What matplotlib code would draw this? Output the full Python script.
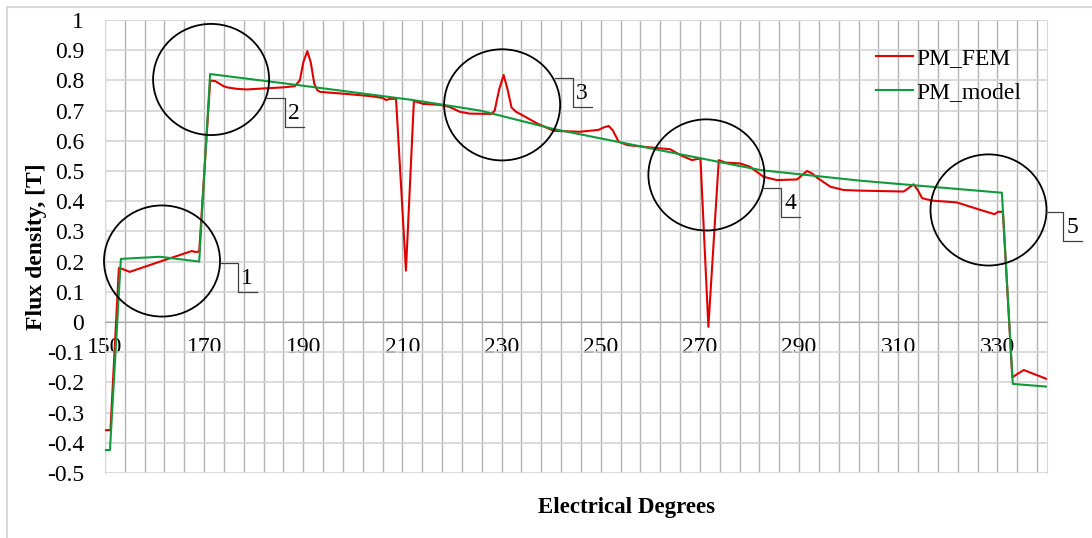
import matplotlib.pyplot as plt
import numpy as np
from matplotlib.patches import Ellipse, Rectangle

plt.rcParams['font.family'] = ['Liberation Serif', 'DejaVu Serif']

# PM_FEM (red)
fem_x = [150, 151.1, 152.8, 153.6, 155, 161.1, 167.5, 168.2, 169, 171.2, 171.4, 172.2,
         173.9, 174.6, 176.6, 178.6, 182.6, 186, 188.3, 189.3, 190.0, 190.8, 191.5,
         192.2, 192.8, 193.4, 198.8, 203.5, 206.0, 206.7, 207.5, 208.7, 210.7, 212.3,
         214.2, 217.6, 219.5, 221.6, 223.6, 228.0, 228.6, 229.5, 230.4, 231.2, 232.0,
         233.0, 233.7, 237.1, 240.5, 245.8, 249.5, 250.7, 251.6, 252.4, 253.6, 255.3,
         260.0, 264.0, 266.0, 268.4, 270.1, 271.7, 273.8, 275.1, 278.1, 280.1, 282.8,
         285.5, 289.6, 290.5, 291.6, 292.6, 293.6, 296.3, 299.0, 302.3, 311.1, 312.2,
         313.1, 314.0, 314.8, 316.8, 321.8, 326.6, 329.4, 330.2, 331.1, 333.0, 335.3, 340]
fem_y = [-0.358, -0.358, 0.179, 0.175, 0.166, 0.200, 0.235, 0.232, 0.233, 0.795, 0.799, 0.798,
         0.781, 0.777, 0.772, 0.770, 0.774, 0.777, 0.781, 0.80, 0.86, 0.897, 0.86,
         0.79, 0.768, 0.762, 0.755, 0.748, 0.742, 0.735, 0.739, 0.739, 0.17, 0.732,
         0.722, 0.719, 0.712, 0.696, 0.690, 0.689, 0.70, 0.77, 0.818, 0.77, 0.71,
         0.695, 0.689, 0.658, 0.633, 0.630, 0.636, 0.645, 0.649, 0.635, 0.597, 0.586,
         0.578, 0.572, 0.553, 0.536, 0.542, -0.016, 0.536, 0.528, 0.525, 0.514, 0.481,
         0.470, 0.472, 0.485, 0.500, 0.492, 0.478, 0.448, 0.437, 0.435, 0.432, 0.445,
         0.456, 0.435, 0.410, 0.402, 0.396, 0.371, 0.357, 0.365, 0.365, -0.183, -0.159, -0.189]

# PM_model (green)
model_x = [150, 151.0, 153.2, 161.1, 169.0, 171.2, 188.7, 212.1, 225.7, 240.5, 264.0,
           282.2, 302.3, 330.9, 333.1, 340]
model_y = [-0.424, -0.424, 0.209, 0.216, 0.200, 0.821, 0.785, 0.735, 0.700, 0.639, 0.562,
           0.503, 0.468, 0.428, -0.205, -0.214]

# numbered circles: centre (deg, T), where the leader leaves the circle, and label
circle_x = [161.5, 171.4, 230.1, 271.3, 328.2]
circle_y = [0.202, 0.803, 0.719, 0.487, 0.371]
leader_x = [173.2, 182.7, 240.8, 282.8, 339.7]
leader_y = [0.195, 0.742, 0.808, 0.444, 0.364]
circle_labels = ['1', '2', '3', '4', '5']

x_ticks = list(range(150, 331, 20))
y_ticks = [-0.5, -0.4, -0.3, -0.2, -0.1, 0, 0.1, 0.2, 0.3, 0.4, 0.5, 0.6, 0.7, 0.8, 0.9, 1]
y_tick_labels = ['%g' % v for v in y_ticks]

fig = plt.figure(figsize=(10.92, 5.38), dpi=100)
ax = fig.add_axes([105 / 1092, 1 - 473 / 538, 942 / 1092, 453 / 538])

# outer light frame
fig.patches.append(Rectangle((7 / 1092, -0.1), 1.2, 1.1 - 7 / 538, transform=fig.transFigure,
                             fill=False, edgecolor='#d9d9d9', linewidth=1.5))

ax.plot(fem_x, fem_y, color='#e00000', linewidth=1.5, label='PM_FEM', zorder=3)
ax.plot(model_x, model_y, color='#119a3c', linewidth=1.5, label='PM_model', zorder=3)

ax.set_xlim(150, 340)
ax.set_ylim(-0.5, 1.0)

ax.set_xticks(x_ticks)
ax.set_xticks(np.arange(150, 341, 4), minor=True)
ax.set_yticks(y_ticks)
ax.set_yticklabels(y_tick_labels)
ax.grid(True, which='both', axis='x', color='#b4b4b4', linewidth=1.0)
ax.grid(True, which='major', axis='y', color='#d4d4d4', linewidth=1.2)
ax.set_axisbelow(True)

ax.spines['bottom'].set_position(('data', 0))
ax.spines['bottom'].set_color('#a6a6a6')
for s in ['top', 'right', 'left']:
    ax.spines[s].set_color('#d9d9d9')
ax.tick_params(axis='x', which='both', length=0, pad=11, labelsize=17)
ax.tick_params(axis='y', length=0, pad=15, labelsize=17)

# circles and leader lines
for cx, cy, lx, ly, lab in zip(circle_x, circle_y, leader_x, leader_y, circle_labels):
    ax.add_patch(Ellipse((cx, cy), 23.4, 0.368, fill=False, edgecolor='black',
                         linewidth=1.3, zorder=4, clip_on=False))
    ax.plot([lx, lx + 3.6, lx + 3.6, lx + 7.4], [ly, ly, ly - 0.095, ly - 0.095],
            color='#404040', linewidth=0.9, clip_on=False, zorder=4)
    ax.text(lx + 5.4, ly - 0.05, lab, fontsize=17, ha='center', va='center', zorder=4)

ax.set_ylabel('Flux density, [T]', fontsize=17, fontweight='bold', labelpad=0)
fig.text(626 / 1092, 1 - 508 / 538, 'Electrical Degrees', fontsize=16.5, fontweight='bold',
         ha='center', va='center')

ax.legend(loc='upper left', bbox_to_anchor=(876 / 1092, 1 - 48 / 538),
          bbox_transform=fig.transFigure, frameon=False, fontsize=17,
          handlelength=1.57, handletextpad=0.13, labelspacing=0.5,
          borderpad=0, borderaxespad=0)

fig.savefig('out.png', dpi=100)
